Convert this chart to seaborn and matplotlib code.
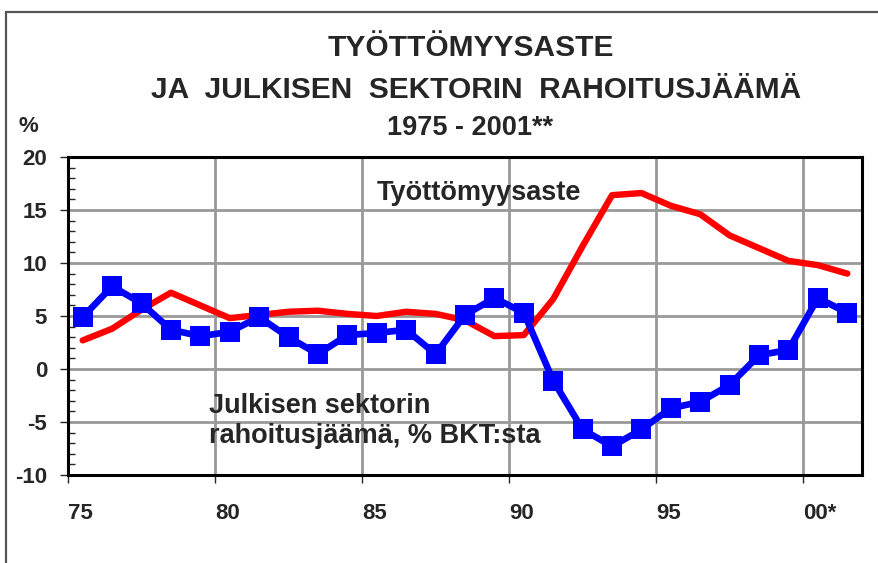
import matplotlib
matplotlib.use("Agg")
import matplotlib.pyplot as plt
import seaborn as sns
import pandas as pd
from matplotlib.lines import Line2D
from matplotlib.ticker import MultipleLocator

# ------------------------------------------------------------
# DATA
# ------------------------------------------------------------
YEARS = list(range(1975, 2002))
TYOTTOMYYS = [2.7, 3.8, 5.6, 7.2, 6.0, 4.8, 5.1, 5.4, 5.5, 5.2, 5.0, 5.4, 5.2,
              4.6, 3.1, 3.2, 6.6, 11.6, 16.4, 16.6, 15.4, 14.6, 12.6, 11.4,
              10.2, 9.8, 9.0]
RAHOITUSJAAMA = [4.9, 7.8, 6.2, 3.7, 3.1, 3.5, 4.9, 3.0, 1.4, 3.2, 3.4, 3.7, 1.4,
                 5.1, 6.7, 5.3, -1.1, -5.7, -7.3, -5.7, -3.7, -3.1, -1.5, 1.3,
                 1.8, 6.7, 5.3]
TICK_YEARS = [1975, 1980, 1985, 1990, 1995, 2000]
TICK_LABELS = ["75", "80", "85", "90", "95", "00*"]

df = pd.DataFrame({"vuosi": YEARS, "tyottomyys": TYOTTOMYYS,
                   "rahoitusjaama": RAHOITUSJAAMA})

sns.set_style("white")
plt.rcParams["font.family"] = ["Liberation Sans", "DejaVu Sans"]
plt.rcParams["font.weight"] = "bold"
plt.rcParams["axes.unicode_minus"] = False

fig = plt.figure(figsize=(8.79, 5.63), dpi=100)
ax = fig.add_axes([68 / 879, 88 / 563, 794 / 879, 318 / 563])

RED, BLUE, GRID = "#ff0000", "#0000ff", "#999999"

sns.lineplot(data=df, x="vuosi", y="tyottomyys", ax=ax, color=RED,
             linewidth=4.6, zorder=3)
sns.lineplot(data=df, x="vuosi", y="rahoitusjaama", ax=ax, color=BLUE,
             linewidth=4.8, marker="s", markersize=14, markeredgewidth=0,
             zorder=4)

# jahrgang = kategorie -> punkte in der mitte des intervalls
ax.set_xlim(1974.5, 2001.5)
ax.set_ylim(-10, 20)
ax.set_xticks([y - 0.5 for y in TICK_YEARS])
ax.set_xticklabels(TICK_LABELS, ha="left")
ax.set_yticks(range(-10, 21, 5))
ax.yaxis.set_minor_locator(MultipleLocator(1))
ax.grid(True, which="major", color=GRID, linewidth=2.0)
ax.set_axisbelow(True)
ax.set_xlabel("")
ax.set_ylabel("")

for s in ax.spines.values():
    s.set_color("black")
    s.set_linewidth(2.2)

ax.tick_params(axis="x", which="major", direction="out", length=6, width=1,
               labelsize=16, pad=14, bottom=True)
ax.tick_params(axis="y", which="major", direction="out", length=6, width=1,
               labelsize=16, pad=9, left=True)
ax.tick_params(axis="y", which="minor", direction="in", length=5, width=1,
               left=True)
for lab in ax.get_xticklabels() + ax.get_yticklabels():
    lab.set_fontweight("bold")

# beschriftungen im plot
ax.text(1985.0, 16.6, "Työttömyysaste", fontsize=19.5, fontweight="bold",
        ha="left", va="center")
ax.text(1979.3, -4.9, "Julkisen sektorin\nrahoitusjäämä, % BKT:sta",
        fontsize=19.5, fontweight="bold", ha="left", va="center",
        linespacing=1.2)

# titel
fig.text(471 / 879, 1 - 48 / 563, "TYÖTTÖMYYSASTE", fontsize=21.5,
         fontweight="bold", ha="center", va="center")
fig.text(476 / 879, 1 - 90 / 563, "JA  JULKISEN  SEKTORIN  RAHOITUSJÄÄMÄ",
         fontsize=21.5, fontweight="bold", ha="center", va="center")
fig.text(470 / 879, 1 - 128 / 563, "1975 - 2001**", fontsize=19.5,
         fontweight="bold", ha="center", va="center")
fig.text(28 / 879, 1 - 127 / 563, "%", fontsize=16, fontweight="bold",
         ha="center", va="center")

# aeusserer rahmen (nur oben und links sichtbar)
fig.add_artist(Line2D([6 / 879, 6 / 879], [0, 1 - 12 / 563],
                      transform=fig.transFigure, color="#555555", lw=1.6))
fig.add_artist(Line2D([6 / 879, 1], [1 - 12 / 563, 1 - 12 / 563],
                      transform=fig.transFigure, color="#555555", lw=1.6))

fig.savefig("out.png", dpi=100, facecolor="white")
